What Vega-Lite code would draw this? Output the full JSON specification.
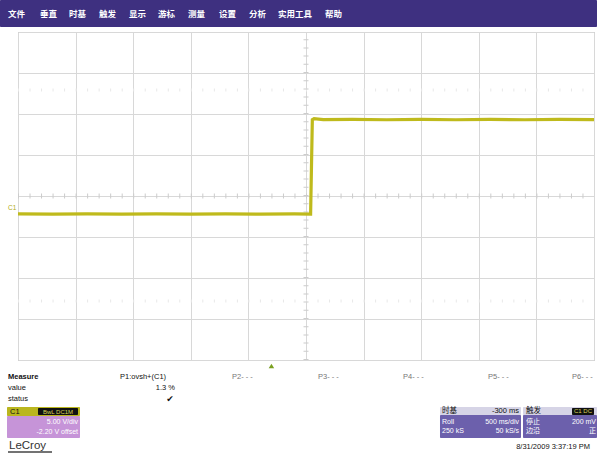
{
  "$schema": "https://vega.github.io/schema/vega-lite/v6.json",
  "width": 576,
  "height": 328,
  "autosize": {"type": "none"},
  "padding": {"left": 18, "top": 32, "right": 3, "bottom": 94},
  "background": "white",
  "config": {
    "view": {"stroke": "#a8a8a8", "strokeWidth": 1},
    "text": {"font": "Liberation Sans"}
  },
  "encoding": {
    "x": {"field": "t", "type": "quantitative", "scale": {"domain": [-2.2, 2.8], "nice": false, "zero": false},
      "axis": {"values": [-2.2, -1.7, -1.2, -0.7, -0.2, 0.3, 0.8, 1.3, 1.8, 2.3, 2.8], "grid": true, "gridColor": "#d8d8d8", "labels": false, "ticks": false, "domain": false, "title": null}},
    "y": {"field": "v", "type": "quantitative", "scale": {"domain": [-17.8, 22.2], "nice": false, "zero": false},
      "axis": {"values": [-17.8, -12.8, -7.8, -2.8, 2.2, 7.2, 12.2, 17.2, 22.2], "grid": true, "gridColor": "#d8d8d8", "labels": false, "ticks": false, "domain": false, "title": null}}
  },
  "layer": [
    {
      "data": {"values": [{"t": -2.2, "t2": 2.8, "v": 2.2}]},
      "mark": {"type": "rule", "color": "#cccccc", "strokeWidth": 5, "strokeDash": [1, 10.52]},
      "encoding": {"x2": {"field": "t2"}}
    },
    {
      "data": {"values": [
        {"t": -2.2, "t2": 2.8, "v": 15.13},
        {"t": -2.2, "t2": 2.8, "v": -10.6}
      ]},
      "mark": {"type": "rule", "color": "#e8e8e8", "strokeWidth": 3, "strokeDash": [1, 10.52]},
      "encoding": {"x2": {"field": "t2"}}
    },
    {
      "data": {"values": [{"t": 0.3, "v": -17.8, "v2": 22.2}]},
      "mark": {"type": "rule", "color": "#cccccc", "strokeWidth": 5, "strokeDash": [1, 7.2]},
      "encoding": {"y2": {"field": "v2"}}
    },
    {
      "data": {"values": [
        {"t": -2.2, "v": 0.02}, {"t": -1.9, "v": -0.02}, {"t": -1.6, "v": 0.02}, {"t": -1.3, "v": -0.01},
        {"t": -1.0, "v": 0.02}, {"t": -0.7, "v": -0.02}, {"t": -0.4, "v": 0.02}, {"t": -0.1, "v": -0.02},
        {"t": 0.2, "v": 0.02}, {"t": 0.34, "v": 0.0}, {"t": 0.355, "v": 11.5}, {"t": 0.37, "v": 11.62},
        {"t": 0.45, "v": 11.52}, {"t": 0.7, "v": 11.54}, {"t": 1.0, "v": 11.5}, {"t": 1.3, "v": 11.54},
        {"t": 1.6, "v": 11.5}, {"t": 1.9, "v": 11.54}, {"t": 2.2, "v": 11.5}, {"t": 2.5, "v": 11.54},
        {"t": 2.8, "v": 11.52}
      ]},
      "mark": {"type": "line", "color": "#bfba1c", "strokeWidth": 3.2, "interpolate": "linear"}
    },
    {
      "data": {"values": [
        {"part": "menu", "t": -2.35625, "t2": 2.82604, "v": 26.1024, "v2": 22.8098},
        {"part": "c1head", "t": -2.29549, "t2": -1.66181, "v": -23.5317, "v2": -24.6293},
        {"part": "c1body", "t": -2.29549, "t2": -1.66181, "v": -24.6293, "v2": -27.3122},
        {"part": "badge", "t": -2.02639, "t2": -1.67917, "v": -23.6537, "v2": -24.5073},
        {"part": "tbhead", "t": 1.46319, "t2": 2.16632, "v": -23.5317, "v2": -24.5073},
        {"part": "tbbody", "t": 1.46319, "t2": 2.16632, "v": -24.5073, "v2": -27.3122},
        {"part": "tbhead", "t": 2.18368, "t2": 2.82604, "v": -23.5317, "v2": -24.5073},
        {"part": "tbbody", "t": 2.18368, "t2": 2.82604, "v": -24.5073, "v2": -27.3122},
        {"part": "badge", "t": 2.60903, "t2": 2.8, "v": -23.6537, "v2": -24.5073}
      ]},
      "mark": {"type": "rect", "cornerRadius": 1},
      "encoding": {
        "x2": {"field": "t2"},
        "y2": {"field": "v2"},
        "fill": {"field": "part", "type": "nominal", "legend": null,
          "scale": {"domain": ["menu", "c1head", "c1body", "badge", "tbhead", "tbbody"],
                    "range": ["#3e3080", "#bab61e", "#c694d8", "#111111", "#d6d4e6", "#6c60ac"]}}
      }
    },
    {
      "data": {"values": [
        {"t": -2.2868, "v": 24.395, "label": "文件"},
        {"t": -2.0090, "v": 24.395, "label": "垂直"},
        {"t": -1.7573, "v": 24.395, "label": "时基"},
        {"t": -1.4969, "v": 24.395, "label": "触发"},
        {"t": -1.2365, "v": 24.395, "label": "显示"},
        {"t": -0.9847, "v": 24.395, "label": "游标"},
        {"t": -0.7243, "v": 24.395, "label": "测量"},
        {"t": -0.4552, "v": 24.395, "label": "设置"},
        {"t": -0.1948, "v": 24.395, "label": "分析"},
        {"t": 0.0569, "v": 24.395, "label": "实用工具"},
        {"t": 0.4649, "v": 24.395, "label": "帮助"}
      ]},
      "mark": {"type": "text", "align": "left", "baseline": "middle", "font": "Noto Sans CJK SC", "fontSize": 8.5, "fontWeight": "bold", "color": "#ffffff"},
      "encoding": {"text": {"field": "label"}}
    },
    {
      "data": {"values": [{"t": -2.2868, "v": -19.873, "label": "Measure"}]},
      "mark": {"type": "text", "align": "left", "baseline": "middle", "fontSize": 7.5, "fontWeight": "bold", "color": "#111111"},
      "encoding": {"text": {"field": "label"}}
    },
    {
      "data": {"values": [
        {"t": -2.2868, "v": -21.215, "label": "value"},
        {"t": -2.2868, "v": -22.556, "label": "status"},
        {"t": -1.3146, "v": -19.873, "label": "P1:ovsh+(C1)"},
        {"t": -2.2694, "v": -24.141, "label": "C1"},
        {"t": 1.4806, "v": -24.020, "label": "时基"},
        {"t": 2.2097, "v": -24.020, "label": "触发"}
      ]},
      "mark": {"type": "text", "align": "left", "baseline": "middle", "font": "Liberation Sans, Noto Sans CJK SC", "fontSize": 7.5, "color": "#111111"},
      "encoding": {"text": {"field": "label"}}
    },
    {
      "data": {"values": [
        {"t": -0.3424, "v": -19.873, "label": "P2- - -"},
        {"t": 0.4042, "v": -19.873, "label": "P3- - -"},
        {"t": 1.1420, "v": -19.873, "label": "P4- - -"},
        {"t": 1.8799, "v": -19.873, "label": "P5- - -"},
        {"t": 2.6090, "v": -19.873, "label": "P6- - -"}
      ]},
      "mark": {"type": "text", "align": "left", "baseline": "middle", "fontSize": 7.5, "color": "#777777"},
      "encoding": {"text": {"field": "label"}}
    },
    {
      "data": {"values": [
        {"t": -0.8372, "v": -21.215, "label": "1.3 %"},
        {"t": 2.1490, "v": -24.020, "label": "-300 ms"},
        {"t": 2.7653, "v": -28.410, "label": "8/31/2009 3:37:19 PM"}
      ]},
      "mark": {"type": "text", "align": "right", "baseline": "middle", "fontSize": 7.5, "color": "#111111"},
      "encoding": {"text": {"field": "label"}}
    },
    {
      "data": {"values": [{"t": -0.8806, "v": -22.556, "label": "✔"}]},
      "mark": {"type": "text", "align": "center", "baseline": "middle", "font": "DejaVu Sans", "fontSize": 9, "color": "#111111"},
      "encoding": {"text": {"field": "label"}}
    },
    {
      "data": {"values": [
        {"t": -1.8528, "v": -24.141, "label": "BwL DC1M"},
        {"t": 2.7045, "v": -24.080, "label": "C1 DC"}
      ]},
      "mark": {"type": "text", "align": "center", "baseline": "middle", "fontSize": 6, "color": "#d8d25a"},
      "encoding": {"text": {"field": "label"}}
    },
    {
      "data": {"values": [
        {"t": -1.6792, "v": -25.361, "label": "5.00 V/div"},
        {"t": -1.6792, "v": -26.581, "label": "-2.20 V offset"},
        {"t": 2.1490, "v": -25.361, "label": "500 ms/div"},
        {"t": 2.1490, "v": -26.459, "label": "50 kS/s"},
        {"t": 2.8174, "v": -25.361, "label": "200 mV"},
        {"t": 2.8174, "v": -26.459, "label": "正"}
      ]},
      "mark": {"type": "text", "align": "right", "baseline": "middle", "font": "Liberation Sans, Noto Sans CJK SC", "fontSize": 7, "color": "#ffffff"},
      "encoding": {"text": {"field": "label"}}
    },
    {
      "data": {"values": [
        {"t": 1.4806, "v": -25.361, "label": "Roll"},
        {"t": 1.4806, "v": -26.459, "label": "250 kS"},
        {"t": 2.2097, "v": -25.361, "label": "停止"},
        {"t": 2.2097, "v": -26.459, "label": "边沿"}
      ]},
      "mark": {"type": "text", "align": "left", "baseline": "middle", "font": "Liberation Sans, Noto Sans CJK SC", "fontSize": 7, "color": "#ffffff"},
      "encoding": {"text": {"field": "label"}}
    },
    {
      "data": {"values": [{"t": -2.2781, "v": -28.288, "label": "LeCroy"}]},
      "mark": {"type": "text", "align": "left", "baseline": "middle", "fontSize": 11.5, "color": "#333333"},
      "encoding": {"text": {"field": "label"}}
    },
    {
      "data": {"values": [{"t": -2.2868, "t2": -1.9049, "v": -29.02}]},
      "mark": {"type": "rule", "color": "#444444", "strokeWidth": 1.5},
      "encoding": {"x2": {"field": "t2"}}
    },
    {
      "data": {"values": [{"t": -2.2868, "v": 0.737, "label": "C1"}]},
      "mark": {"type": "text", "align": "left", "baseline": "middle", "fontSize": 6.5, "color": "#b0ac20"},
      "encoding": {"text": {"field": "label"}}
    },
    {
      "data": {"values": [{"t": 0.0, "v": -18.532}]},
      "mark": {"type": "point", "shape": "triangle-up", "filled": true, "size": 30, "color": "#7aa020", "opacity": 1}
    }
  ]
}
